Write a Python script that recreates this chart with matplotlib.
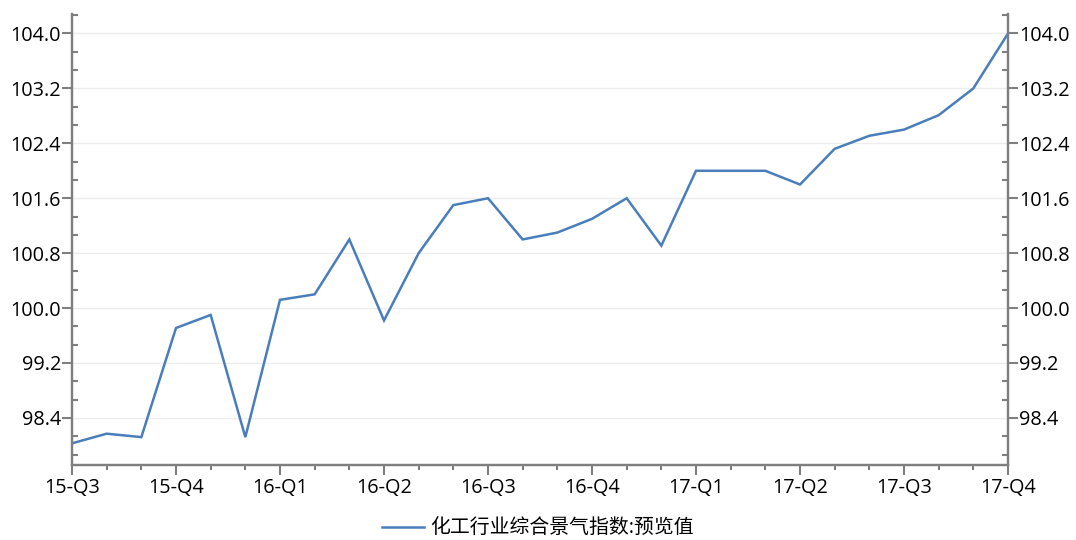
import matplotlib.pyplot as plt
from matplotlib.ticker import MultipleLocator, FixedLocator
import numpy as np

plt.rcParams['font.family'] = ['Open Sans', 'Noto Sans CJK SC', 'DejaVu Sans']

# monthly values, 15-Q3 .. 17-Q4
values = [98.03, 98.17, 98.12, 99.71, 99.9, 98.12, 100.12, 100.2, 101.0,
          99.82, 100.8, 101.5, 101.6, 101.0, 101.1, 101.3, 101.6, 100.91,
          102.0, 102.0, 102.0, 101.8, 102.32, 102.51, 102.6, 102.81,
          103.2, 104.0]
quarter_labels = ['15-Q3', '15-Q4', '16-Q1', '16-Q2', '16-Q3', '16-Q4',
                  '17-Q1', '17-Q2', '17-Q3', '17-Q4']
series_name = '化工行业综合景气指数:预览值'

months = np.arange(len(values))
axis_col = '#7F7F7F'
line_col = '#4A7EBB'

fig = plt.figure(figsize=(10.76, 5.4), dpi=100)
ax = fig.add_axes([72/1076, 1-465/540, 936/1076, 451/540])
ax2 = ax.twinx()

line, = ax.plot(months, values, color=line_col, lw=1.8, label=series_name,
                solid_joinstyle='miter')

ymin, ymax = 97.714, 104.284
majors = np.arange(98.4, 104.01, 0.8)
minors = []
for m in np.arange(97.6, 104.01, 0.8):
    for k in (1, 2):
        v = m + k * 0.8 / 3
        if ymin <= v <= ymax + 0.01:
            minors.append(v)

for a in (ax, ax2):
    a.set_xlim(0, len(values) - 1)
    a.set_ylim(ymin, ymax)
    a.yaxis.set_major_locator(FixedLocator(majors))
    a.yaxis.set_minor_locator(FixedLocator(minors))
    a.yaxis.set_major_formatter(plt.FuncFormatter(lambda v, p: f'{v:.1f}'))
    a.spines['top'].set_visible(False)
    for s in ('left', 'right', 'bottom'):
        a.spines[s].set_color(axis_col)
        a.spines[s].set_linewidth(1.6)
    a.tick_params(axis='y', which='major', direction='out', length=7, width=1.5,
                  color=axis_col, labelsize=14.3, labelcolor='black', pad=1)
    a.tick_params(axis='y', which='minor', direction='in', length=4.5, width=1.5,
                  color=axis_col)

ax.tick_params(axis='y', left=True, right=False, which='both')
ax2.tick_params(axis='y', left=False, right=True, which='both')

ax.set_xticks(months[::3])
ax.set_xticklabels(quarter_labels)
ax.xaxis.set_minor_locator(MultipleLocator(1))
ax.tick_params(axis='x', which='major', direction='out', length=7.5, width=1.5,
               color=axis_col, labelsize=14.3, labelcolor='black', pad=2)
ax.tick_params(axis='x', which='minor', direction='out', length=3.5, width=1.5,
               color=axis_col)

ax.grid(axis='y', which='major', color='#EDEDED', lw=1)
ax.set_axisbelow(True)

fig.legend(handles=[line], loc='center', bbox_to_anchor=(0.5, 1-529/540),
           frameon=False, fontsize=14.3, handlelength=2.1, handletextpad=0.3)

fig.savefig('out.png', dpi=100)
